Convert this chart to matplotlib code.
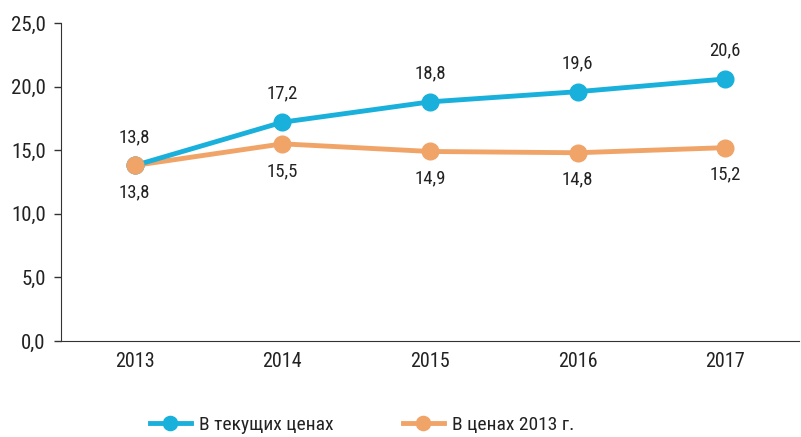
import matplotlib
matplotlib.use("Agg")
import matplotlib.pyplot as plt
from matplotlib import font_manager

names = {f.name for f in font_manager.fontManager.ttflist}
fam = [n for n in ["Liberation Sans Narrow", "Roboto Condensed", "Roboto"] if n in names] + ["DejaVu Sans"]
plt.rcParams['font.family'] = fam

years = ["2013", "2014", "2015", "2016", "2017"]
current = [13.8, 17.2, 18.8, 19.6, 20.6]
constant = [13.8, 15.5, 14.9, 14.8, 15.2]
yticks = [0, 5, 10, 15, 20, 25]
ytick_labels = ["0,0", "5,0", "10,0", "15,0", "20,0", "25,0"]

blue = "#19B0DB"
orange = "#F0A468"
txt = "#222222"

fig = plt.figure(figsize=(8.01, 4.37), dpi=100)
ax = fig.add_axes([61/801, 1-341/437, 738/801, (341-23)/437])
x = list(range(len(years)))
ax.plot(x, constant, color=orange, lw=3.5, marker='o', ms=12, zorder=3, label="В ценах 2013 г.")
ax.plot(x, current, color=blue, lw=3.5, marker='o', ms=12, zorder=4, label="В текущих ценах")
ax.plot([x[0]], [constant[0]], color=orange, marker='o', ms=12, zorder=5, lw=0)

for xi, v in zip(x, current):
    ax.annotate(f"{v:.1f}".replace('.', ','), (xi, v), xytext=(0, 14), textcoords='offset points',
                ha='center', va='bottom', fontsize=13.5, color=txt)
for xi, v in zip(x, constant):
    ax.annotate(f"{v:.1f}".replace('.', ','), (xi, v), xytext=(0, -13), textcoords='offset points',
                ha='center', va='top', fontsize=13.5, color=txt)

ax.set_xlim(-0.5, 4.5)
ax.set_ylim(0, 25)
ax.set_yticks(yticks)
ax.set_yticklabels(ytick_labels, fontsize=15, color=txt)
ax.set_xticks(x)
ax.set_xticklabels(years, fontsize=14.5, color=txt)
ax.tick_params(axis='x', length=0, pad=8)
ax.tick_params(axis='y', length=5, width=1, color="#333333", pad=6)
for s in ['top', 'right']:
    ax.spines[s].set_visible(False)
ax.spines['left'].set_color("#333333")
ax.spines['bottom'].set_color("#333333")

h, l = ax.get_legend_handles_labels()
order = [1, 0]
leg = fig.legend([h[i] for i in order], [l[i] for i in order], loc='center',
                 bbox_to_anchor=(362/801, 1-425/437), ncol=2, frameon=False, fontsize=14,
                 handlelength=2.1, columnspacing=3.6, handletextpad=0.4, markerscale=0.85)
for t in leg.get_texts():
    t.set_color(txt)

fig.savefig("out.png", dpi=100)
